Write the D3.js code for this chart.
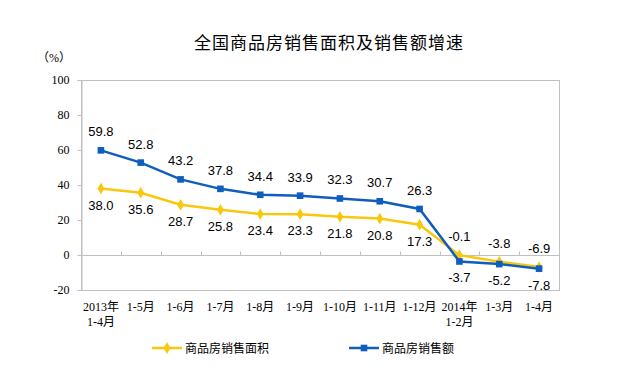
<!DOCTYPE html>
<html>
<head>
<meta charset="utf-8">
<script src="https://cdn.jsdelivr.net/npm/d3@7"></script>
<style>
  body { margin: 0; background: #fff; }
  svg { display: block; }
</style>
</head>
<body>
<div id="chart"></div>
<script>
    "use strict";

    // categories (two-line labels split by "\n")
    var periods = ["2013年\n1-4月", "1-5月", "1-6月", "1-7月", "1-8月", "1-9月",
		   "1-10月", "1-11月", "1-12月", "2014年\n1-2月", "1-3月", "1-4月"];

    // series values (%)
    var areaGrowth  = [38.0, 35.6, 28.7, 25.8, 23.4, 23.3, 21.8, 20.8, 17.3, -0.1, -3.8, -6.9];
    var salesGrowth = [59.8, 52.8, 43.2, 37.8, 34.4, 33.9, 32.3, 30.7, 26.3, -3.7, -5.2, -7.8];

    var yTicks = [-20, 0, 20, 40, 60, 80, 100];

    var title = "全国商品房销售面积及销售额增速";
    var areaName = "商品房销售面积";
    var salesName = "商品房销售额";

    var yellow = "#F9C80E";
    var blue = "#0F5EBE";
    var frameColor = "#c0c0c0";

    var width = 625, height = 380;
    var margin = {top: 80, right: 66, bottom: 90, left: 81};

    var svg = d3.select("#chart")
	.append("svg")
	.attr("width", width)
	.attr("height", height);

    var x = d3.scaleBand()
	.domain(d3.range(periods.length))
	.range([margin.left, width - margin.right]);

    var y = d3.scaleLinear()
	.domain([-20, 100])
	.range([height - margin.bottom, margin.top]);

    var serif = "'Liberation Serif', 'Noto Sans CJK SC', serif";
    var sans = "'Liberation Sans', Arial, sans-serif";
    var cjk = "'Noto Sans CJK SC', sans-serif";

    // plain hyphen minus, as in the original
    var fmt1 = function(d) { return d.toFixed(1); };

    // title
    svg.append("text")
	.attr("x", 329)
	.attr("y", 49)
	.attr("text-anchor", "middle")
	.style("font-family", cjk)
	.style("font-size", "17px")
	.style("letter-spacing", "1px")
	.style("fill", "#000")
	.text(title);

    svg.append("text")
	.attr("x", 37)
	.attr("y", 62)
	.style("font-family", serif)
	.style("font-size", "12px")
	.text("（%）");

    // plot frame
    svg.append("rect")
	.attr("x", margin.left + 0.5)
	.attr("y", y(100) + 0.5)
	.attr("width", width - margin.right - margin.left)
	.attr("height", y(-20) - y(100))
	.attr("fill", "none")
	.attr("stroke", frameColor);

    // y axis
    var yAxis = svg.append("g")
	.attr("transform", "translate(" + (margin.left + 0.5) + ",0)")
	.call(d3.axisLeft(y).tickValues(yTicks).tickSize(4).tickPadding(8)
	      .tickFormat(function(d) { return String(d); }));
    yAxis.select(".domain").attr("stroke", frameColor);
    yAxis.selectAll(".tick line").attr("stroke", frameColor);
    yAxis.selectAll(".tick text")
	.style("font-family", serif)
	.style("font-size", "12px")
	.style("fill", "#000");

    // category axis at zero, ticks pointing up at band boundaries
    var zeroY = Math.round(y(0)) + 0.5;
    svg.append("line")
	.attr("x1", margin.left).attr("x2", width - margin.right)
	.attr("y1", zeroY).attr("y2", zeroY)
	.attr("stroke", frameColor);
    svg.selectAll(".cat-tick")
	.data(d3.range(1, periods.length))
	.enter().append("line")
	.attr("class", "cat-tick")
	.attr("x1", function(i) { return Math.round(x(i)) + 0.5; })
	.attr("x2", function(i) { return Math.round(x(i)) + 0.5; })
	.attr("y1", zeroY - 4)
	.attr("y2", zeroY)
	.attr("stroke", frameColor);

    // category labels under the frame
    var catLabels = svg.selectAll(".cat-label")
	.data(periods)
	.enter().append("text")
	.attr("class", "cat-label")
	.attr("text-anchor", "middle")
	.style("font-family", serif)
	.style("font-size", "12px")
	.style("fill", "#000");
    catLabels.each(function(d, i) {
	var t = d3.select(this);
	d.split("\n").forEach(function(line, k) {
	    t.append("tspan")
		.attr("x", x(i) + x.bandwidth() / 2)
		.attr("y", 311 + k * 15)
		.text(line);
	});
    });

    var cx = function(d, i) { return x(i) + x.bandwidth() / 2; };
    var line = d3.line()
	.x(cx)
	.y(function(d) { return y(d); });

    var diamond = d3.symbol().type(d3.symbolDiamond).size(40);
    var square = d3.symbol().type(d3.symbolSquare).size(44);

    var drawSeries = function(values, color, shape) {
	var g = svg.append("g");
	g.append("path")
	    .datum(values)
	    .attr("d", line)
	    .attr("fill", "none")
	    .attr("stroke", color)
	    .attr("stroke-width", 2.5);
	g.selectAll("path.pt")
	    .data(values)
	    .enter().append("path")
	    .attr("class", "pt")
	    .attr("d", shape)
	    .attr("fill", color)
	    .attr("transform", function(d, i) {
		return "translate(" + cx(d, i) + "," + y(d) + ")";
	    });
    };

    drawSeries(areaGrowth, yellow, diamond);
    drawSeries(salesGrowth, blue, square);

    // data labels: the higher series of each pair goes above, the lower below
    var drawLabels = function(values, other) {
	svg.append("g")
	    .selectAll("text")
	    .data(values)
	    .enter().append("text")
	    .attr("x", cx)
	    .attr("y", function(d, i) {
		return d >= other[i] ? y(d) - 14 : y(d) + 21;
	    })
	    .attr("text-anchor", "middle")
	    .style("font-family", sans)
	    .style("font-size", "13px")
	    .style("fill", "#000")
	    .text(fmt1);
    };

    drawLabels(salesGrowth, areaGrowth);
    drawLabels(areaGrowth, salesGrowth);

    // legend
    var legend = [
	{name: areaName, color: yellow, shape: diamond, x: 152},
	{name: salesName, color: blue, shape: square, x: 349}
    ];
    var lg = svg.selectAll(".legend")
	.data(legend)
	.enter().append("g")
	.attr("class", "legend")
	.attr("transform", function(d) { return "translate(" + d.x + ",348)"; });
    lg.append("line")
	.attr("x1", 0).attr("x2", 30)
	.attr("stroke", function(d) { return d.color; })
	.attr("stroke-width", 2.5);
    lg.append("path")
	.attr("d", function(d) { return d.shape(); })
	.attr("transform", "translate(15,0)")
	.attr("fill", function(d) { return d.color; });
    lg.append("text")
	.attr("x", 33)
	.attr("y", 4.5)
	.style("font-family", cjk)
	.style("font-size", "12px")
	.style("fill", "#000")
	.text(function(d) { return d.name; });
</script>
</body>
</html>
